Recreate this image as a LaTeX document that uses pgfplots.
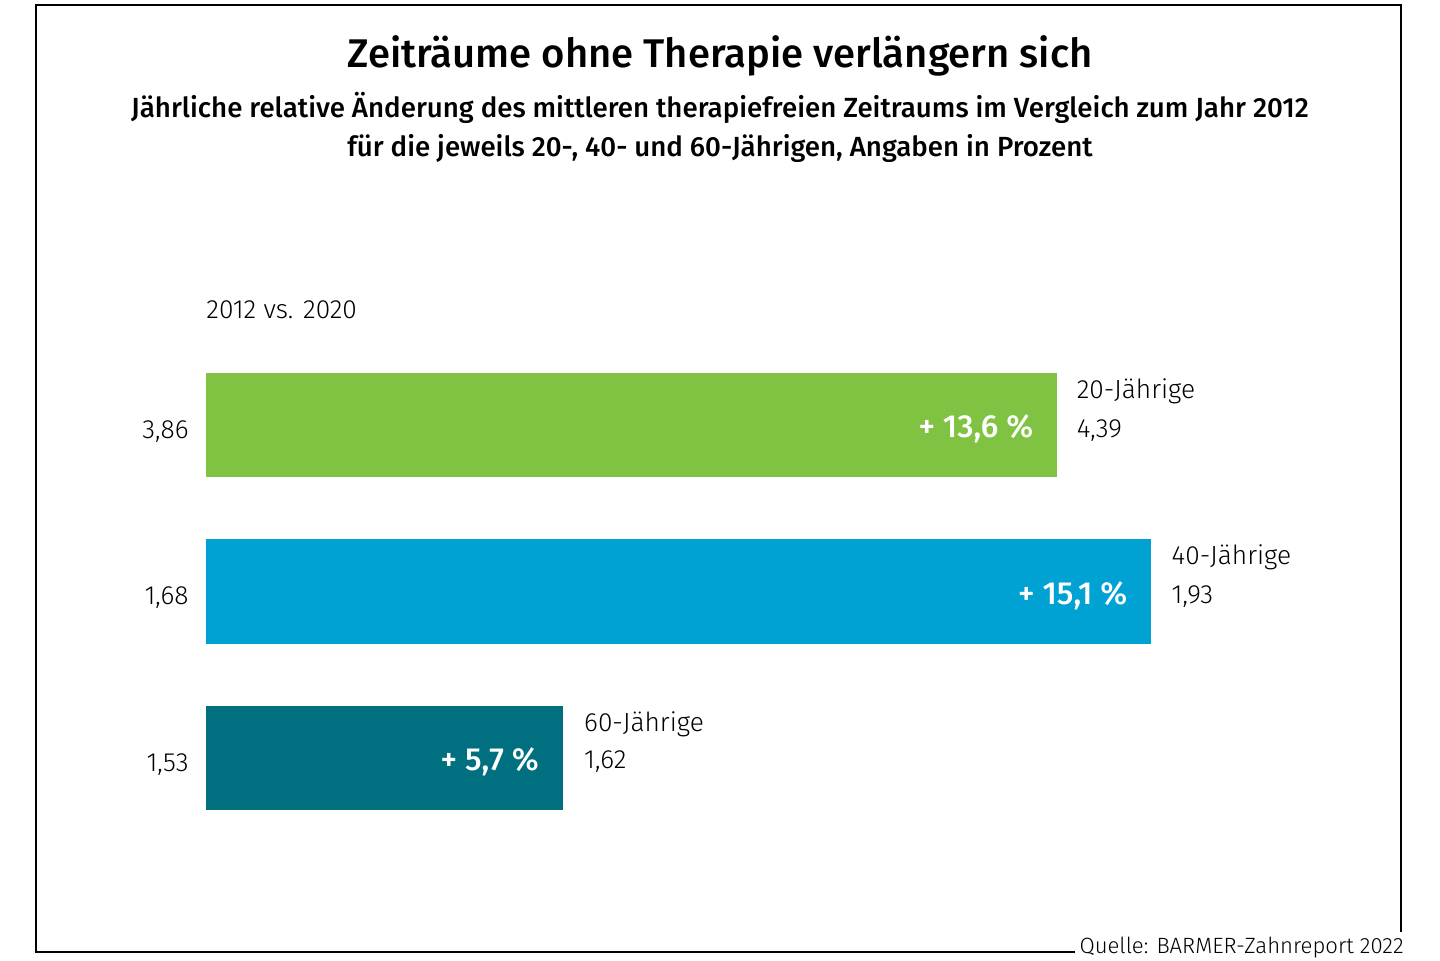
\documentclass[border=0pt]{standalone}
\usepackage{fontspec}
\setmainfont{Fira Sans Light}[BoldFont={Fira Sans Medium}]
\usepackage{pgfplots}
\pgfplotsset{compat=1.18}
\definecolor{bgreen}{HTML}{80C342}
\definecolor{bblue}{HTML}{00A1D3}
\definecolor{bteal}{HTML}{006F80}
\newcommand{\lbl}{\fontsize{13.2}{16}\selectfont}
\begin{document}
\begin{tikzpicture}[x=0.5bp,y=0.5bp]
% picture area in pixels of the reference (1440 x 960)
\path (0,0) rectangle (1440,960);
\draw[line width=1bp] (1075,8) -- (36,8) -- (36,955) -- (1401,955) -- (1401,28);
\node[anchor=base] at (720,892) {\bfseries\fontsize{20.1}{24}\selectfont Zeiträume ohne Therapie verlängern sich};
\node[anchor=base] at (720,842) {\bfseries\fontsize{13.9}{16}\selectfont Jährliche relative Änderung des mittleren therapiefreien Zeitraums im Vergleich zum Jahr 2012};
\node[anchor=base] at (720,803) {\bfseries\fontsize{13.9}{16}\selectfont für die jeweils 20-, 40- und 60-Jährigen, Angaben in Prozent};
\node[anchor=base west, inner sep=0pt] at (206,641) {\lbl 2012 vs. 2020};
\node[anchor=base east, inner sep=0pt] at (1404,7) {\fontsize{11.1}{14}\selectfont Quelle: BARMER-Zahnreport 2022};
\coordinate (O) at (206,535);

\begin{axis}[
    at={(O)}, anchor=origin,
    x=31.3bp, y=83.25bp, y dir=reverse,
    xmin=0, xmax=16, ymin=-0.5, ymax=2.5,
    hide axis, clip=false,
    xbar, bar width=52.25bp, bar shift=0pt,
    nodes near coords, point meta=explicit symbolic,
    nodes near coords style={anchor=east, xshift=-8.5bp, yshift=-2bp, text=white,
        font=\bfseries\fontsize{16}{19}\selectfont},
]
\addplot[fill=bgreen, draw=none] coordinates {(13.6,0) [+ 13,6 \%]};
\addplot[fill=bblue, draw=none] coordinates {(15.1,1) [+ 15,1 \%]};
\addplot[fill=bteal, draw=none] coordinates {(5.7,2) [+ 5,7 \%]};

% 2012 values (left) and 2020 values (right)
\node[anchor=base east, inner sep=0pt, xshift=-8.5bp, yshift=-6.5bp] at (axis cs:0,0) {\lbl 3,86};
\node[anchor=base east, inner sep=0pt, xshift=-8.5bp, yshift=-6.5bp] at (axis cs:0,1) {\lbl 1,68};
\node[anchor=base east, inner sep=0pt, xshift=-8.5bp, yshift=-6.5bp] at (axis cs:0,2) {\lbl 1,53};
\node[anchor=base west, inner sep=0pt, xshift=9.5bp, yshift=13.5bp] at (axis cs:13.6,0) {\lbl 20-Jährige};
\node[anchor=base west, inner sep=0pt, xshift=9.5bp, yshift=-6bp] at (axis cs:13.6,0) {\lbl 4,39};
\node[anchor=base west, inner sep=0pt, xshift=10bp, yshift=13.5bp] at (axis cs:15.1,1) {\lbl 40-Jährige};
\node[anchor=base west, inner sep=0pt, xshift=10bp, yshift=-6bp] at (axis cs:15.1,1) {\lbl 1,93};
\node[anchor=base west, inner sep=0pt, xshift=10.5bp, yshift=13.5bp] at (axis cs:5.7,2) {\lbl 60-Jährige};
\node[anchor=base west, inner sep=0pt, xshift=10.5bp, yshift=-5bp] at (axis cs:5.7,2) {\lbl 1,62};
\end{axis}
\end{tikzpicture}
\end{document}
